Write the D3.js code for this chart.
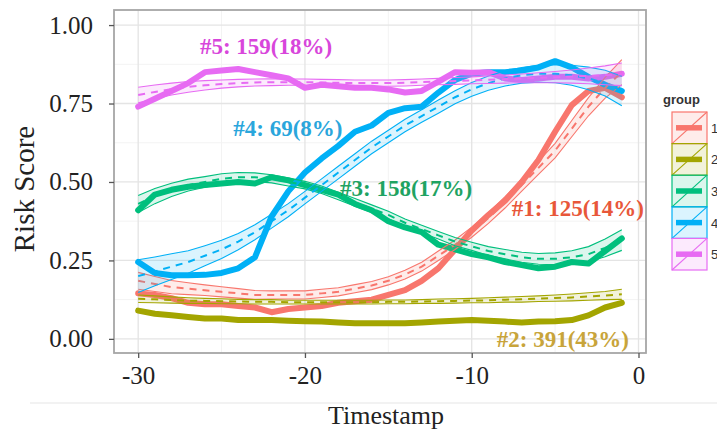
<!DOCTYPE html>
<html>
<head>
<meta charset="utf-8">
<script src="https://cdn.jsdelivr.net/npm/d3@7"></script>
<style>
  html, body { margin: 0; padding: 0; background: #fff; }
  svg { display: block; }
</style>
</head>
<body>
<svg id="chart" width="717" height="431"></svg>
<script>
// ---------------- data ----------------
const timestamps = [-30,-29,-28,-27,-26,-25,-24,-23,-22,-21,-20,-19,-18,-17,-16,-15,-14,-13,-12,-11,-10,-9,-8,-7,-6,-5,-4,-3,-2,-1];
const groups = ["1","2","3","4","5"];
const groupLabels = ["#1: 125(14%)","#2: 391(43%)","#3: 158(17%)","#4: 69(8%)","#5: 159(18%)"];

// observed mean risk score per group (thick lines)
const mean1 = [0.145,0.14,0.13,0.115,0.11,0.11,0.105,0.10,0.085,0.095,0.10,0.105,0.115,0.12,0.125,0.14,0.155,0.185,0.225,0.285,0.345,0.395,0.44,0.50,0.57,0.66,0.745,0.79,0.80,0.77];
const mean2 = [0.09,0.08,0.075,0.07,0.065,0.065,0.06,0.06,0.06,0.058,0.056,0.055,0.052,0.05,0.05,0.05,0.05,0.052,0.055,0.058,0.06,0.058,0.055,0.052,0.055,0.056,0.06,0.075,0.10,0.115];
const mean3 = [0.41,0.46,0.475,0.485,0.49,0.495,0.50,0.495,0.515,0.505,0.49,0.475,0.46,0.43,0.41,0.375,0.355,0.34,0.30,0.285,0.27,0.26,0.245,0.235,0.225,0.23,0.245,0.24,0.28,0.32];
const mean4 = [0.245,0.21,0.203,0.203,0.204,0.21,0.225,0.26,0.39,0.47,0.53,0.575,0.615,0.66,0.68,0.72,0.735,0.74,0.785,0.825,0.845,0.85,0.85,0.855,0.865,0.885,0.865,0.835,0.81,0.79];
const mean5 = [0.74,0.765,0.79,0.815,0.85,0.855,0.86,0.85,0.84,0.83,0.80,0.81,0.805,0.80,0.80,0.795,0.785,0.79,0.82,0.85,0.848,0.85,0.83,0.825,0.83,0.835,0.835,0.83,0.835,0.845];

// smoothed fit per group (dashed lines)
const fit1 = [0.185,0.175,0.165,0.16,0.155,0.15,0.145,0.14,0.14,0.14,0.14,0.145,0.15,0.16,0.17,0.185,0.205,0.23,0.265,0.30,0.34,0.385,0.435,0.49,0.545,0.60,0.67,0.74,0.80,0.85];
const fit2 = [0.128,0.126,0.124,0.122,0.121,0.12,0.119,0.118,0.118,0.117,0.117,0.117,0.117,0.117,0.117,0.118,0.118,0.119,0.12,0.121,0.122,0.123,0.125,0.126,0.128,0.13,0.132,0.135,0.138,0.142];
const fit3 = [0.43,0.455,0.475,0.49,0.50,0.51,0.515,0.515,0.51,0.50,0.49,0.475,0.455,0.435,0.415,0.395,0.37,0.35,0.33,0.31,0.295,0.28,0.27,0.26,0.255,0.255,0.26,0.27,0.29,0.315];
const fit4 = [0.20,0.215,0.23,0.245,0.265,0.285,0.31,0.34,0.375,0.41,0.45,0.49,0.53,0.57,0.61,0.645,0.68,0.71,0.74,0.77,0.795,0.815,0.83,0.84,0.845,0.845,0.84,0.83,0.815,0.79];
const fit5 = [0.777,0.787,0.796,0.803,0.808,0.812,0.815,0.817,0.818,0.818,0.818,0.817,0.816,0.815,0.815,0.815,0.816,0.818,0.82,0.822,0.824,0.826,0.828,0.83,0.832,0.834,0.836,0.838,0.84,0.843];

// half-width of the confidence band per group
const band1 = [0.027,0.024,0.021,0.019,0.017,0.016,0.015,0.014,0.013,0.013,0.013,0.013,0.013,0.013,0.013,0.013,0.014,0.014,0.015,0.015,0.016,0.017,0.018,0.019,0.021,0.023,0.026,0.029,0.033,0.04];
const band2 = [0.012,0.011,0.01,0.009,0.008,0.008,0.007,0.007,0.007,0.006,0.006,0.006,0.006,0.006,0.006,0.006,0.006,0.006,0.007,0.007,0.007,0.008,0.008,0.009,0.009,0.01,0.011,0.012,0.013,0.016];
const band3 = [0.027,0.024,0.021,0.019,0.017,0.016,0.015,0.014,0.013,0.013,0.012,0.012,0.012,0.012,0.012,0.012,0.012,0.012,0.012,0.013,0.013,0.014,0.015,0.016,0.017,0.019,0.021,0.024,0.028,0.033];
const band4 = [0.052,0.046,0.041,0.036,0.032,0.029,0.026,0.024,0.022,0.021,0.02,0.02,0.02,0.02,0.02,0.02,0.02,0.02,0.021,0.021,0.022,0.023,0.024,0.025,0.027,0.029,0.032,0.036,0.041,0.047];
const band5 = [0.025,0.022,0.019,0.017,0.015,0.013,0.012,0.011,0.011,0.01,0.01,0.01,0.01,0.01,0.01,0.01,0.01,0.01,0.01,0.011,0.011,0.012,0.013,0.014,0.016,0.018,0.021,0.025,0.03,0.036];

const xTicks = [-30,-20,-10,0];
const yTicks = [0,0.25,0.5,0.75,1];
const xMinor = [-25,-15,-5];
const yMinor = [0.125,0.375,0.625,0.875];

const means = [mean1,mean2,mean3,mean4,mean5];
const fits = [fit1,fit2,fit3,fit4,fit5];
const bands = [band1,band2,band3,band4,band5];
// label anchor (timestamp, score) for each group annotation
const labelX = [-7.6,-8.5,-17.9,-24.3,-26.3];
const labelY = [0.39,-0.026,0.455,0.645,0.908];

// ---------------- style ----------------
const colors = ["#F8766D","#A3A500","#00BF7D","#00B0F6","#E76BF3"];
const labelColors = ["#e8573a","#c8a43a","#1fa362","#2aa6dc","#d846db"];

const svg = d3.select("#chart");
const panel = {left:114, right:646, top:10, bottom:353};

const x = d3.scaleLinear().domain([-31.45, 0.45]).range([panel.left, panel.right]);
const y = d3.scaleLinear().domain([-0.045, 1.048]).range([panel.bottom, panel.top]);

// faint rule under the plot (as in source image)
svg.append("line").attr("x1",30).attr("x2",717).attr("y1",403).attr("y2",403)
  .attr("stroke","#eeeeee").attr("stroke-width",1.5);

// panel background
svg.append("rect").attr("x",panel.left).attr("y",panel.top)
  .attr("width",panel.right-panel.left).attr("height",panel.bottom-panel.top)
  .attr("fill","#ffffff");

const grid = svg.append("g");
grid.selectAll(".xm").data(xMinor).enter().append("line")
  .attr("x1",d=>x(d)).attr("x2",d=>x(d)).attr("y1",panel.top).attr("y2",panel.bottom)
  .attr("stroke","#f3f3f3").attr("stroke-width",1);
grid.selectAll(".ym").data(yMinor).enter().append("line")
  .attr("y1",d=>y(d)).attr("y2",d=>y(d)).attr("x1",panel.left).attr("x2",panel.right)
  .attr("stroke","#f3f3f3").attr("stroke-width",1);
grid.selectAll(".xg").data(xTicks).enter().append("line")
  .attr("x1",d=>x(d)).attr("x2",d=>x(d)).attr("y1",panel.top).attr("y2",panel.bottom)
  .attr("stroke","#e4e4e4").attr("stroke-width",1.3);
grid.selectAll(".yg").data(yTicks).enter().append("line")
  .attr("y1",d=>y(d)).attr("y2",d=>y(d)).attr("x1",panel.left).attr("x2",panel.right)
  .attr("stroke","#e4e4e4").attr("stroke-width",1.3);

// clip to panel
svg.append("clipPath").attr("id","clip").append("rect")
  .attr("x",panel.left).attr("y",panel.top)
  .attr("width",panel.right-panel.left).attr("height",panel.bottom-panel.top);

const plot = svg.append("g").attr("clip-path","url(#clip)");

const lineGen = d3.line().x(d=>x(d[0])).y(d=>y(d[1]));
const areaGen = d3.area().x(d=>x(d[0])).y0(d=>y(d[1]-d[2])).y1(d=>y(d[1]+d[2]));

// thick observed lines
groups.forEach((g,i)=>{
  const pts = timestamps.map((t,j)=>[t, means[i][j]]);
  plot.append("path").attr("d", lineGen(pts))
    .attr("fill","none").attr("stroke",colors[i]).attr("stroke-width",6)
    .attr("stroke-linejoin","round").attr("stroke-linecap","round");
});

// smoothed fits with confidence bands
groups.forEach((g,i)=>{
  const pts = timestamps.map((t,j)=>[t, fits[i][j], bands[i][j]]);
  plot.append("path").attr("d", areaGen(pts))
    .attr("fill",colors[i]).attr("fill-opacity",0.14).attr("stroke","none");
  plot.append("path").attr("d", lineGen(pts.map(p=>[p[0],p[1]+p[2]])))
    .attr("fill","none").attr("stroke",colors[i]).attr("stroke-width",1.1);
  plot.append("path").attr("d", lineGen(pts.map(p=>[p[0],p[1]-p[2]])))
    .attr("fill","none").attr("stroke",colors[i]).attr("stroke-width",1.1);
  plot.append("path").attr("d", lineGen(pts))
    .attr("fill","none").attr("stroke",colors[i]).attr("stroke-width",2)
    .attr("stroke-dasharray","7,6");
});

// panel border
svg.append("rect").attr("x",panel.left).attr("y",panel.top)
  .attr("width",panel.right-panel.left).attr("height",panel.bottom-panel.top)
  .attr("fill","none").attr("stroke","#a6a6a6").attr("stroke-width",1.8);

// axes
const serif = "'Liberation Serif','Times New Roman',serif";
const xAxis = svg.append("g").attr("transform",`translate(0,${panel.bottom})`)
  .call(d3.axisBottom(x).tickValues(xTicks).tickSize(5).tickPadding(8).tickFormat(d3.format("d")));
const yAxis = svg.append("g").attr("transform",`translate(${panel.left},0)`)
  .call(d3.axisLeft(y).tickValues(yTicks).tickSize(5).tickPadding(16).tickFormat(d3.format(".2f")));
[xAxis,yAxis].forEach(a=>{
  a.select(".domain").remove();
  a.selectAll(".tick line").attr("stroke","#555").attr("stroke-width",1.3);
  a.selectAll(".tick text").attr("fill","#222").attr("font-family",serif).attr("font-size",25);
});
xAxis.selectAll(".tick text").text(d=>d3.format("d")(d).replace("−","-"));

svg.append("text").attr("x",386).attr("y",424).attr("text-anchor","middle")
  .attr("font-family",serif).attr("font-size",26).attr("fill","#222").text("Timestamp");
svg.append("text").attr("transform","translate(34,189) rotate(-90)").attr("text-anchor","middle")
  .attr("font-family",serif).attr("font-size",29).attr("fill","#222").text("Risk Score");

// group annotations
groups.forEach((g,i)=>{
  svg.append("text").attr("x",x(labelX[i])).attr("y",y(labelY[i]))
    .attr("font-family",serif).attr("font-weight","bold").attr("font-size",23)
    .attr("fill",labelColors[i]).text(groupLabels[i]);
});

// legend
const lg = svg.append("g");
lg.append("text").attr("x",663).attr("y",104).attr("font-family","'Liberation Sans',Arial,sans-serif")
  .attr("font-weight","bold").attr("font-size",13).attr("fill","#333").text("group");
const keyH = 31.6, keyW = 35, keyX = 672, keyY = 112;
groups.forEach((g,i)=>{
  const ky = keyY + i*keyH;
  const k = lg.append("g");
  k.append("rect").attr("x",keyX).attr("y",ky).attr("width",keyW).attr("height",keyH)
    .attr("fill",colors[i]).attr("fill-opacity",0.14).attr("stroke",colors[i]).attr("stroke-width",1.2);
  k.append("line").attr("x1",keyX).attr("y1",ky+keyH).attr("x2",keyX+keyW).attr("y2",ky)
    .attr("stroke",colors[i]).attr("stroke-width",1.1);
  k.append("line").attr("x1",keyX+4).attr("x2",keyX+keyW-5).attr("y1",ky+keyH/2).attr("y2",ky+keyH/2)
    .attr("stroke",colors[i]).attr("stroke-width",5.5);
  k.append("text").attr("x",keyX+keyW+4).attr("y",ky+keyH/2+5)
    .attr("font-family","'Liberation Sans',Arial,sans-serif").attr("font-size",13).attr("fill","#333").text(g);
});
</script>
</body>
</html>
